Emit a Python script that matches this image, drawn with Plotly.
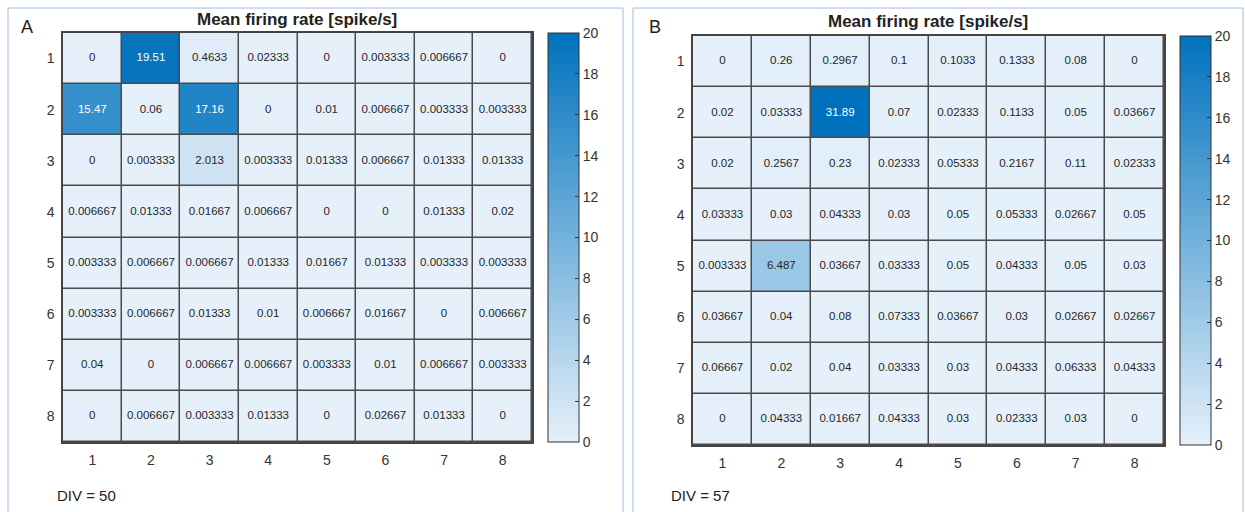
import plotly.graph_objects as go

W, H = 1245, 512

rows = ["1", "2", "3", "4", "5", "6", "7", "8"]
cols = ["1", "2", "3", "4", "5", "6", "7", "8"]

rate_A = [
    [0, 19.51, 0.4633, 0.02333, 0, 0.003333, 0.006667, 0],
    [15.47, 0.06, 17.16, 0, 0.01, 0.006667, 0.003333, 0.003333],
    [0, 0.003333, 2.013, 0.003333, 0.01333, 0.006667, 0.01333, 0.01333],
    [0.006667, 0.01333, 0.01667, 0.006667, 0, 0, 0.01333, 0.02],
    [0.003333, 0.006667, 0.006667, 0.01333, 0.01667, 0.01333, 0.003333, 0.003333],
    [0.003333, 0.006667, 0.01333, 0.01, 0.006667, 0.01667, 0, 0.006667],
    [0.04, 0, 0.006667, 0.006667, 0.003333, 0.01, 0.006667, 0.003333],
    [0, 0.006667, 0.003333, 0.01333, 0, 0.02667, 0.01333, 0],
]

rate_B = [
    [0, 0.26, 0.2967, 0.1, 0.1033, 0.1333, 0.08, 0],
    [0.02, 0.03333, 31.89, 0.07, 0.02333, 0.1133, 0.05, 0.03667],
    [0.02, 0.2567, 0.23, 0.02333, 0.05333, 0.2167, 0.11, 0.02333],
    [0.03333, 0.03, 0.04333, 0.03, 0.05, 0.05333, 0.02667, 0.05],
    [0.003333, 6.487, 0.03667, 0.03333, 0.05, 0.04333, 0.05, 0.03],
    [0.03667, 0.04, 0.08, 0.07333, 0.03667, 0.03, 0.02667, 0.02667],
    [0.06667, 0.02, 0.04, 0.03333, 0.03, 0.04333, 0.06333, 0.04333],
    [0, 0.04333, 0.01667, 0.04333, 0.03, 0.02333, 0.03, 0],
]

cbar_ticks = [0, 2, 4, 6, 8, 10, 12, 14, 16, 18, 20]
title_text = "Mean firing rate [spike/s]"
panel_labels = ["A", "B"]
div_labels = ["DIV = 50", "DIV = 57"]

FONT = "Liberation Sans, Arial, sans-serif"
colorscale = [[0.0, "#E5F0FA"], [1.0, "#0072BD"]]
ZMAX = 20


def fmt(v):
    return "%.4g" % v


def px(x):
    return x / W


def py(y):
    return 1 - y / H


fig = go.Figure()

panels = [
    dict(z=rate_A, xa="x", ya="y", plot=(63, 532, 33, 442), cb_x=548),
    dict(z=rate_B, xa="x2", ya="y2", plot=(693, 1164, 36, 445), cb_x=1180),
]

for p in panels:
    x0, x1, y0, y1 = p["plot"]
    fig.add_trace(go.Heatmap(
        z=p["z"], x=cols, y=rows,
        colorscale=colorscale, zmin=0, zmax=ZMAX,
        xgap=1.5, ygap=1.5,
        xaxis=p["xa"], yaxis=p["ya"],
        hoverinfo="skip",
        colorbar=dict(
            x=px(p["cb_x"]), xanchor="left", xpad=0,
            y=py(y0), yanchor="top", ypad=0,
            len=y1 - y0, lenmode="pixels",
            thickness=31, thicknessmode="pixels",
            outlinewidth=1, outlinecolor="#333",
            tickvals=cbar_ticks, ticks="inside", ticklen=4,
            tickcolor="#333", tickwidth=1,
            tickfont=dict(family=FONT, size=14, color="#333"),
        ),
    ))
    tx, ty, tt, tc = [], [], [], []
    for i, r in enumerate(rows):
        for j, c in enumerate(cols):
            v = p["z"][i][j]
            tx.append(c)
            ty.append(r)
            tt.append(fmt(v))
            tc.append("white" if v > 0.6 * ZMAX else "#262626")
    fig.add_trace(go.Scatter(
        x=tx, y=ty, text=tt, mode="text",
        textfont=dict(family=FONT, size=11.5, color=tc),
        xaxis=p["xa"], yaxis=p["ya"], hoverinfo="skip", showlegend=False,
    ))

axis_common = dict(
    showgrid=False, zeroline=False, showline=True, mirror=True,
    linecolor="#444", linewidth=1.5, ticks="",
    tickfont=dict(family=FONT, size=14, color="#333"),
)

fig.update_layout(
    width=W, height=H,
    margin=dict(l=0, r=0, t=0, b=0),
    paper_bgcolor="white",
    plot_bgcolor="#4a4a4a",
    font=dict(family=FONT),
    showlegend=False,
    xaxis=dict(domain=[px(63), px(532)], anchor="y", ticklabelstandoff=4,
               range=[-0.5, 7.5], **axis_common),
    yaxis=dict(domain=[py(442), py(33)], anchor="x", range=[7.5, -0.5],
               ticklabelstandoff=4, **axis_common),
    xaxis2=dict(domain=[px(693), px(1164)], anchor="y2", ticklabelstandoff=4,
                range=[-0.5, 7.5], **axis_common),
    yaxis2=dict(domain=[py(445), py(36)], anchor="x2", range=[7.5, -0.5],
                ticklabelstandoff=4, **axis_common),
)

# panel frames
for (fx0, fx1) in [(8, 623), (633, 1243)]:
    fig.add_shape(type="rect", xref="paper", yref="paper",
                  x0=px(fx0), x1=px(fx1), y0=-0.05, y1=py(8),
                  line=dict(color="#9CBBE4", width=1), fillcolor="rgba(0,0,0,0)",
                  layer="below")

annots = []
for cx, cy, lbl in [(297, 19, title_text), (928, 21, title_text)]:
    annots.append(dict(x=px(cx), y=py(cy), xref="paper", yref="paper",
                       text="<b>%s</b>" % lbl, showarrow=False,
                       xanchor="center", yanchor="middle",
                       font=dict(family=FONT, size=17, color="#222")))
for cx, cy, lbl in [(27, 27, panel_labels[0]), (655, 27, panel_labels[1])]:
    annots.append(dict(x=px(cx), y=py(cy), xref="paper", yref="paper",
                       text=lbl, showarrow=False, xanchor="center", yanchor="middle",
                       font=dict(family=FONT, size=18, color="#222")))
for lx, cy, lbl in [(55, 495, div_labels[0]), (669, 495, div_labels[1])]:
    annots.append(dict(x=px(lx), y=py(cy), xref="paper", yref="paper",
                       text=lbl, showarrow=False, xanchor="left", yanchor="middle",
                       font=dict(family=FONT, size=15, color="#222")))
fig.update_layout(annotations=annots)

fig.write_html("out.html")
